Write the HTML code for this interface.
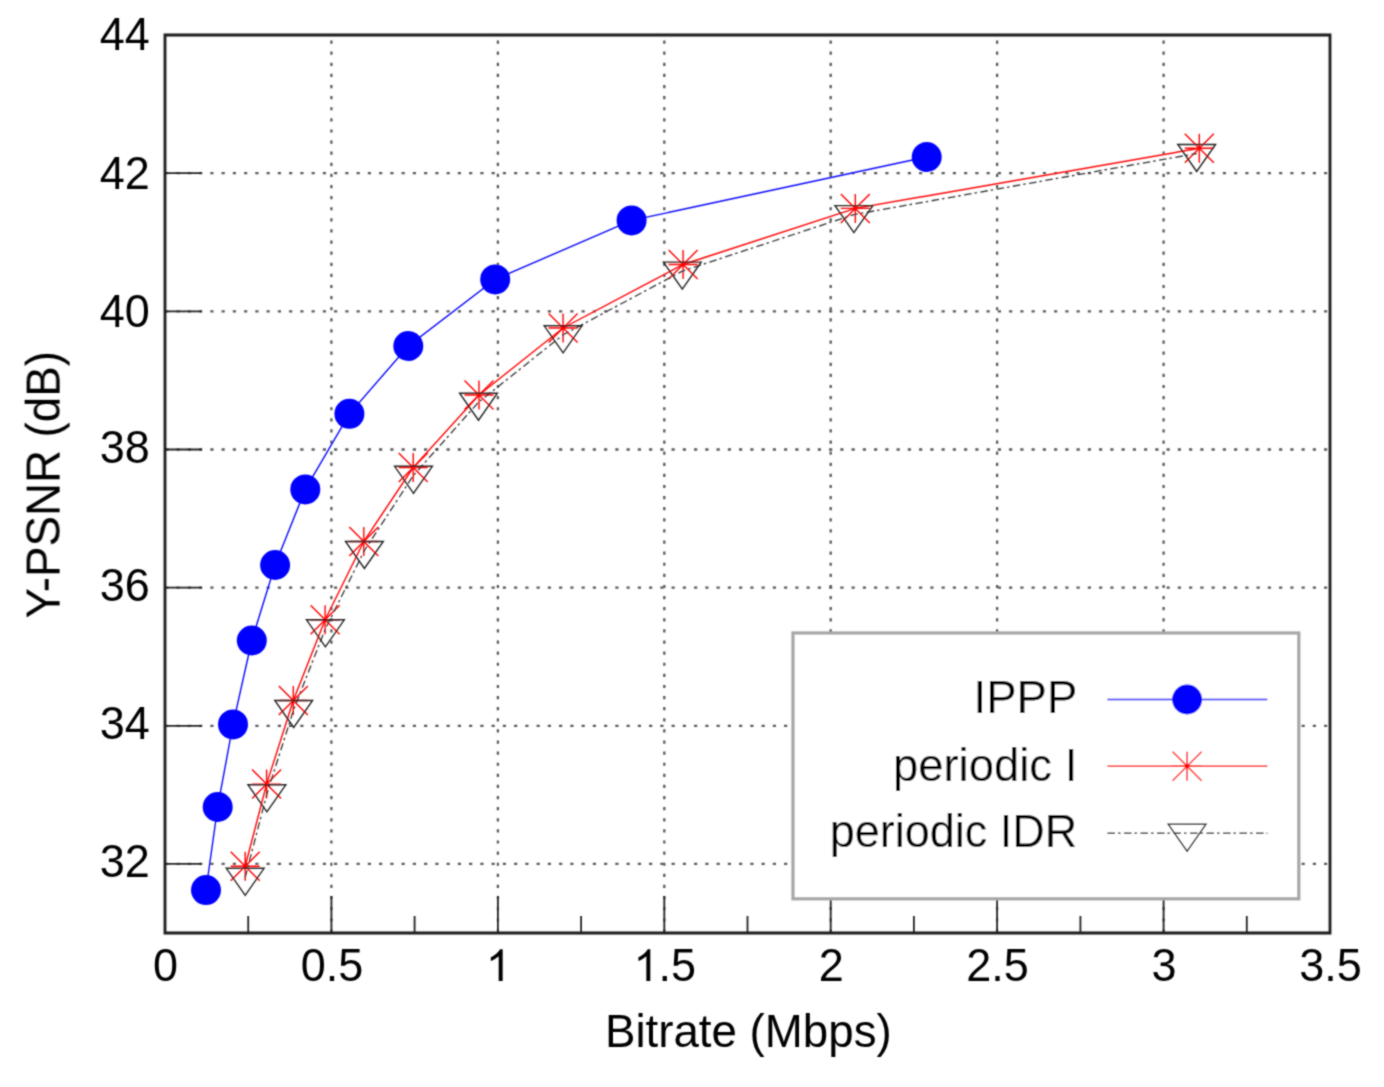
<!DOCTYPE html><html><head><meta charset="utf-8"><style>html,body{margin:0;padding:0;background:#fff;overflow:hidden}svg{display:block}</style></head><body>
<svg width="1384" height="1087" viewBox="0 0 1384 1087" font-family="&quot;Liberation Sans&quot;, sans-serif">
<defs><filter id="sf" x="0" y="0" width="1384" height="1087" filterUnits="userSpaceOnUse"><feConvolveMatrix order="3" kernelMatrix="1 2 1 2 8 2 1 2 1" divisor="20" edgeMode="duplicate"/></filter></defs>
<rect width="1384" height="1087" fill="#fff"/>
<g filter="url(#sf)">
<g stroke="#5a5a5a" stroke-width="2.3" stroke-dasharray="3.2 8.05" stroke-dashoffset="-0.3" fill="none"><line x1="165.0" y1="863.9" x2="1330.0" y2="863.9"/><line x1="165.0" y1="725.8" x2="1330.0" y2="725.8"/><line x1="165.0" y1="587.6" x2="1330.0" y2="587.6"/><line x1="165.0" y1="449.5" x2="1330.0" y2="449.5"/><line x1="165.0" y1="311.3" x2="1330.0" y2="311.3"/><line x1="165.0" y1="173.2" x2="1330.0" y2="173.2"/></g>
<g stroke="#5a5a5a" stroke-width="2.3" stroke-dasharray="3.2 7.91" stroke-dashoffset="-5.5" fill="none"><line x1="331.4" y1="35.0" x2="331.4" y2="933.0"/><line x1="497.9" y1="35.0" x2="497.9" y2="933.0"/><line x1="664.3" y1="35.0" x2="664.3" y2="933.0"/><line x1="830.7" y1="35.0" x2="830.7" y2="933.0"/><line x1="997.1" y1="35.0" x2="997.1" y2="933.0"/><line x1="1163.6" y1="35.0" x2="1163.6" y2="933.0"/></g>
<g stroke="#222" stroke-width="1.8" fill="none"><line x1="165.0" y1="863.9" x2="202.0" y2="863.9"/><line x1="165.0" y1="725.8" x2="202.0" y2="725.8"/><line x1="165.0" y1="587.6" x2="202.0" y2="587.6"/><line x1="165.0" y1="449.5" x2="202.0" y2="449.5"/><line x1="165.0" y1="311.3" x2="202.0" y2="311.3"/><line x1="165.0" y1="173.2" x2="202.0" y2="173.2"/><line x1="331.4" y1="933.0" x2="331.4" y2="896.0"/><line x1="497.9" y1="933.0" x2="497.9" y2="896.0"/><line x1="664.3" y1="933.0" x2="664.3" y2="896.0"/><line x1="830.7" y1="933.0" x2="830.7" y2="896.0"/><line x1="997.1" y1="933.0" x2="997.1" y2="896.0"/><line x1="1163.6" y1="933.0" x2="1163.6" y2="896.0"/><line x1="248.2" y1="933.0" x2="248.2" y2="916.0"/><line x1="414.6" y1="933.0" x2="414.6" y2="916.0"/><line x1="581.1" y1="933.0" x2="581.1" y2="916.0"/><line x1="747.5" y1="933.0" x2="747.5" y2="916.0"/><line x1="913.9" y1="933.0" x2="913.9" y2="916.0"/><line x1="1080.4" y1="933.0" x2="1080.4" y2="916.0"/><line x1="1246.8" y1="933.0" x2="1246.8" y2="916.0"/></g>
<polyline points="206.0,890.1 217.7,807.0 233.0,724.4 251.8,640.5 275.1,565.0 305.3,489.4 349.4,413.8 408.3,346.0 495.2,279.4 631.6,220.4 926.7,157.0" fill="none" stroke="#00f" stroke-width="1.35"/>
<g fill="#00f"><circle cx="206.0" cy="890.1" r="15.0"/><circle cx="217.7" cy="807.0" r="15.0"/><circle cx="233.0" cy="724.4" r="15.0"/><circle cx="251.8" cy="640.5" r="15.0"/><circle cx="275.1" cy="565.0" r="15.0"/><circle cx="305.3" cy="489.4" r="15.0"/><circle cx="349.4" cy="413.8" r="15.0"/><circle cx="408.3" cy="346.0" r="15.0"/><circle cx="495.2" cy="279.4" r="15.0"/><circle cx="631.6" cy="220.4" r="15.0"/><circle cx="926.7" cy="157.0" r="15.0"/></g>
<polyline points="245.2,866.2 266.6,784.1 293.3,700.5 325.1,619.8 363.8,541.5 413.2,467.5 479.0,395.0 563.1,328.0 683.1,264.5 855.3,208.4 1199.3,148.3" fill="none" stroke="#f00" stroke-width="1.4"/>
<path d="M230.7,866.2H259.7M245.2,851.7V880.7M230.7,851.7L259.7,880.7M230.7,880.7L259.7,851.7M252.1,784.1H281.1M266.6,769.6V798.6M252.1,769.6L281.1,798.6M252.1,798.6L281.1,769.6M278.8,700.5H307.8M293.3,686.0V715.0M278.8,686.0L307.8,715.0M278.8,715.0L307.8,686.0M310.6,619.8H339.6M325.1,605.3V634.3M310.6,605.3L339.6,634.3M310.6,634.3L339.6,605.3M349.3,541.5H378.3M363.8,527.0V556.0M349.3,527.0L378.3,556.0M349.3,556.0L378.3,527.0M398.7,467.5H427.7M413.2,453.0V482.0M398.7,453.0L427.7,482.0M398.7,482.0L427.7,453.0M464.5,395.0H493.5M479.0,380.5V409.5M464.5,380.5L493.5,409.5M464.5,409.5L493.5,380.5M548.6,328.0H577.6M563.1,313.5V342.5M548.6,313.5L577.6,342.5M548.6,342.5L577.6,313.5M668.6,264.5H697.6M683.1,250.0V279.0M668.6,250.0L697.6,279.0M668.6,279.0L697.6,250.0M840.8,208.4H869.8M855.3,193.9V222.9M840.8,193.9L869.8,222.9M840.8,222.9L869.8,193.9M1184.8,148.3H1213.8M1199.3,133.8V162.8M1184.8,133.8L1213.8,162.8M1184.8,162.8L1213.8,133.8" fill="none" stroke="#f00" stroke-width="1.4"/>
<polyline points="245.2,877.3 266.9,793.8 293.7,709.5 325.4,628.8 364.4,550.5 413.5,475.3 478.5,402.2 563.1,334.8 682.3,271.1 853.9,214.6 1196.7,153.5" fill="none" stroke="#333" stroke-width="1.3" stroke-dasharray="7.5 3 2.5 3.5"/>
<path d="M226.3,868.3L264.1,868.3L245.2,895.3ZM248.0,784.8L285.8,784.8L266.9,811.8ZM274.8,700.5L312.6,700.5L293.7,727.5ZM306.5,619.8L344.3,619.8L325.4,646.8ZM345.5,541.5L383.3,541.5L364.4,568.5ZM394.6,466.3L432.4,466.3L413.5,493.3ZM459.6,393.2L497.4,393.2L478.5,420.2ZM544.2,325.8L582.0,325.8L563.1,352.8ZM663.4,262.1L701.2,262.1L682.3,289.1ZM835.0,205.6L872.8,205.6L853.9,232.6ZM1177.8,144.5L1215.6,144.5L1196.7,171.5Z" fill="none" stroke="#222" stroke-width="1.4" stroke-linejoin="miter"/>
<path d="M165.0,35.0H1330.0V933.0H165.0Z" fill="none" stroke="#1a1a1a" stroke-width="2.8"/>
<rect x="793" y="633" width="505.8" height="265.8" fill="#fff" stroke="#a6a6a6" stroke-width="3.2"/>
<line x1="1107.5" y1="699.5" x2="1267.3" y2="699.5" stroke="#00f" stroke-width="1.35"/>
<circle cx="1187.1" cy="699.5" r="15.0" fill="#00f"/>
<line x1="1107.5" y1="766.2" x2="1267.3" y2="766.2" stroke="#f00" stroke-width="1.4"/>
<path d="M1172.6,766.2H1201.6M1187.1,751.7V780.7M1172.6,751.7L1201.6,780.7M1172.6,780.7L1201.6,751.7" stroke="#f00" stroke-width="1.4" fill="none"/>
<line x1="1107.5" y1="833.2" x2="1267.3" y2="833.2" stroke="#333" stroke-width="1.4" stroke-dasharray="7.5 3 2.5 3.5"/>
<path d="M1168.2,824.2L1206.0,824.2L1187.1,851.2Z" stroke="#222" stroke-width="1.4" fill="none"/>
<g font-size="46" fill="#000">
<text transform="translate(1077.3,713.3) scale(0.99,1)" text-anchor="end">IPPP</text>
<text transform="translate(1077.3,780.6) scale(0.988,1)" text-anchor="end">periodic I</text>
<text transform="translate(1077.3,847.0) scale(0.978,1)" text-anchor="end">periodic IDR</text>
<text transform="translate(149.8,877.1) scale(0.978,1)" text-anchor="end">32</text>
<text transform="translate(149.8,738.8) scale(0.978,1)" text-anchor="end">34</text>
<text transform="translate(149.8,600.7) scale(0.978,1)" text-anchor="end">36</text>
<text transform="translate(149.8,462.6) scale(0.978,1)" text-anchor="end">38</text>
<text transform="translate(149.8,326.6) scale(0.978,1)" text-anchor="end">40</text>
<text transform="translate(149.8,188.5) scale(0.978,1)" text-anchor="end">42</text>
<text transform="translate(149.8,50.3) scale(0.978,1)" text-anchor="end">44</text>
<text transform="translate(165.5,981) scale(0.978,1)" text-anchor="middle">0</text>
<text transform="translate(331.9,981) scale(0.978,1)" text-anchor="middle">0.5</text>
<g transform="translate(498.4,981) scale(0.978,1)"><path transform="translate(-12.79,0) scale(0.022461,-0.021562)" d="M763,0H583V1147Q518,1085 412,1023T223,930V1104Q374,1175 487,1276T647,1472H763Z"/></g>
<g transform="translate(664.8,981) scale(0.978,1)"><path transform="translate(-31.97,0) scale(0.022461,-0.021562)" d="M763,0H583V1147Q518,1085 412,1023T223,930V1104Q374,1175 487,1276T647,1472H763Z"/><text x="-6.39" y="0">.5</text></g>
<text transform="translate(831.2,981) scale(0.978,1)" text-anchor="middle">2</text>
<text transform="translate(997.6,981) scale(0.978,1)" text-anchor="middle">2.5</text>
<text transform="translate(1164.1,981) scale(0.978,1)" text-anchor="middle">3</text>
<text transform="translate(1330.5,981) scale(0.978,1)" text-anchor="middle">3.5</text>
<text transform="translate(748.3,1047) scale(0.993,1)" text-anchor="middle">Bitrate (Mbps)</text>
<text transform="translate(59.2,484.8) rotate(-90) scale(0.994,1.06)" text-anchor="middle">Y-PSNR (dB)</text>
</g>
</g></svg></body></html>
